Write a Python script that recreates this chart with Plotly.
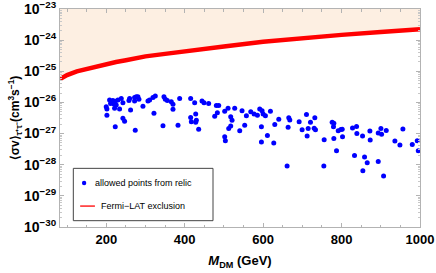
import plotly.graph_objects as go

# Fermi-LAT exclusion curve (mass in GeV, log10 of <sigma v>)
fermi_mass = [82, 100, 125, 150, 175, 200, 225, 250, 268, 272, 300, 350, 400, 500, 600, 700, 800, 900, 1000]
fermi_log = [-25.25, -25.12, -25.0, -24.92, -24.84, -24.77, -24.70, -24.645, -24.605, -24.575, -24.52,
             -24.44, -24.37, -24.20, -24.05, -23.93, -23.83, -23.74, -23.645]

# allowed points from relic (mass in GeV, log10 of <sigma v>)
relic_mass = [208.4, 212.6, 216.9, 222.9, 229.7, 238.2, 242.4, 211.0, 219.5, 225.4,
              199.9, 201.6, 221.2, 233.9, 259.5, 257.8, 272.2, 276.5, 280.7, 283.3,
              272.2, 262.0, 293.5, 306.3, 310.5, 319.0, 325.0, 347.1, 350.5, 355.6,
              365.8, 370.1, 370.1, 387.1, 415.2, 425.4, 444.1, 449.2, 461.1, 480.7,
              486.7, 476.5, 483.3, 502.0, 510.5, 527.5, 546.2, 557.3, 568.4, 576.9,
              585.4, 591.3, 597.3, 599.9, 321.6, 242.4, 246.7, 201.6, 222.9, 273.9,
              344.6, 382.9, 415.2, 416.9, 428.0, 429.7, 428.0, 435.6, 517.3, 520.7,
              517.3, 512.2, 540.3, 553.0, 502.0, 503.7, 595.6, 595.6,
              605.8, 618.6, 610.9, 627.1, 629.7, 639.9, 663.7, 665.4, 668.0, 691.8,
              699.4, 710.5, 714.8, 712.2, 720.7, 731.8, 730.1, 733.5, 755.6, 776.0,
              780.3, 779.4, 780.3, 787.1, 791.4, 798.2, 801.6, 802.4, 827.9, 838.2,
              839.0, 853.5, 872.2, 873.0, 893.5, 900.3, 902.0, 913.9, 936.0, 948.8,
              956.4, 980.3, 993.0, 995.6, 661.1, 754.8, 833.0, 858.6, 865.4, 854.3,
              893.5, 907.1]
relic_log = [-25.92, -25.98, -25.94, -25.96, -25.92, -25.87, -26.01, -26.03, -26.05, -26.08,
             -26.14, -26.21, -26.19, -26.21, -25.87, -25.94, -25.84, -25.82, -25.82, -25.90,
             -25.95, -26.24, -26.12, -25.95, -25.92, -25.84, -25.79, -25.82, -25.90, -25.94,
             -25.98, -26.06, -26.22, -25.87, -25.87, -26.01, -25.95, -26.01, -26.03, -26.10,
             -26.10, -26.44, -26.33, -26.28, -26.19, -26.19, -26.27, -26.43, -26.30, -26.37,
             -26.41, -26.21, -26.27, -26.37, -26.35, -26.51, -26.60, -26.41, -26.78, -26.89,
             -26.75, -26.73, -26.48, -26.62, -26.37, -26.57, -26.64, -26.86, -26.46, -26.57,
             -26.76, -26.84, -26.91, -26.73, -27.10, -27.23, -26.78, -27.27,
             -26.43, -26.28, -27.06, -27.30, -26.71, -26.54, -26.80, -26.49, -26.56, -26.62,
             -26.88, -26.39, -26.84, -27.08, -26.64, -26.49, -26.83, -26.88, -27.20, -26.64,
             -26.67, -26.78, -27.16, -27.55, -26.91, -26.87, -26.86, -27.10, -26.82, -26.77,
             -27.00, -27.08, -26.92, -27.21, -26.98, -26.84, -27.02, -26.90, -27.24, -27.37,
             -26.85, -27.35, -27.23, -27.55, -28.04, -28.04, -27.70, -27.75, -27.94, -28.19,
             -27.90, -28.36]

legend_labels = ["allowed points from relic", "Fermi\u2212LAT exclusion"]

y_decades = [-30, -29, -28, -27, -26, -25, -24, -23]
x_ticks = [200, 400, 600, 800, 1000]
x_minor = [100, 150, 250, 300, 350, 450, 500, 550, 650, 700, 750, 850, 900, 950]
x_range = [82, 1000]

fermi_vals = [10 ** v for v in fermi_log]
relic_vals = [10 ** v for v in relic_log]
top_vals = [10 ** y_decades[-1]] * len(fermi_mass)

y_ticktext = ["<b>10<sup>\u2212%d</sup></b>" % (-d) for d in y_decades]
y_minor = [m * 10 ** d for d in y_decades[:-1] for m in range(2, 10)]

fig = go.Figure()
fig.add_trace(go.Scatter(x=fermi_mass, y=top_vals, mode="lines",
                         line=dict(width=0, color="rgba(0,0,0,0)"),
                         showlegend=False, hoverinfo="skip"))
fig.add_trace(go.Scatter(x=fermi_mass, y=fermi_vals, mode="lines", fill="tonexty",
                         fillcolor="rgb(253,239,226)",
                         line=dict(color="rgb(255,0,0)", width=4.5),
                         name=legend_labels[1], showlegend=False))
fig.add_trace(go.Scatter(x=relic_mass, y=relic_vals, mode="markers",
                         marker=dict(color="rgb(0,0,255)", size=5),
                         name=legend_labels[0], showlegend=False))

axis_common = dict(showline=True, linecolor="#b3b3b3", linewidth=1, mirror="ticks",
                   ticks="inside", tickcolor="#b3b3b3", showgrid=False, zeroline=False,
                   ticklabeloverflow="allow")

fig.update_xaxes(range=x_range, tickvals=x_ticks,
                 ticktext=["<b>%d</b>" % v for v in x_ticks], ticklen=4,
                 tickfont=dict(family="Liberation Sans", size=13, color="black"),
                 minor=dict(tickvals=x_minor, ticks="inside", ticklen=2.5, tickcolor="#b3b3b3"),
                 title=dict(text="<b><i>M</i><sub>DM</sub> (GeV)</b>", standoff=10,
                            font=dict(family="Liberation Sans", size=13, color="black")),
                 **axis_common)
fig.update_yaxes(type="log", range=[-30, -22.999],
                 tickvals=[10 ** d for d in y_decades], ticktext=y_ticktext, ticklen=4,
                 tickfont=dict(family="Liberation Sans", size=14, color="black"),
                 minor=dict(tickvals=y_minor, ticks="inside", ticklen=2, tickcolor="#c8c8c8"),
                 title=dict(text="<b>\u27e8\u03c3v\u27e9<sub>\u03c4\u207a\u03c4\u207b</sub>(cm<sup>3</sup>s<sup>\u22121</sup>)</b>",
                            standoff=1,
                            font=dict(family="Liberation Sans", size=12, color="black")),
                 **axis_common)

# hand-drawn legend box (paper coordinates of the plot area)
leg_font = dict(family="Liberation Sans", size=9, color="black")
shapes = [
    dict(type="rect", xref="paper", yref="paper", x0=0.037, x1=0.425, y0=0.029, y1=0.269,
         line=dict(color="#444444", width=1), fillcolor="white", layer="above"),
    dict(type="circle", xref="paper", yref="paper", xsizemode="pixel", ysizemode="pixel",
         xanchor=0.067, yanchor=0.202, x0=-2.2, x1=2.2, y0=-2.2, y1=2.2,
         fillcolor="rgb(0,0,255)", line=dict(width=0), layer="above"),
    dict(type="line", xref="paper", yref="paper", x0=0.056, x1=0.097, y0=0.096, y1=0.096,
         line=dict(color="rgb(255,0,0)", width=1.3), layer="above"),
]
annotations = [
    dict(xref="paper", yref="paper", x=0.093, y=0.202, xanchor="left", yanchor="middle",
         text=legend_labels[0], showarrow=False, font=leg_font),
    dict(xref="paper", yref="paper", x=0.109, y=0.096, xanchor="left", yanchor="middle",
         text=legend_labels[1], showarrow=False, font=leg_font),
]

fig.update_layout(
    width=436, height=273,
    margin=dict(l=60, r=16, t=9, b=46, autoexpand=False),
    paper_bgcolor="white", plot_bgcolor="white",
    shapes=shapes, annotations=annotations,
    showlegend=False,
)

fig.write_html("out.html", config={"displayModeBar": False},
               post_script="document.body.style.margin='0px';document.body.style.overflow='hidden';")
